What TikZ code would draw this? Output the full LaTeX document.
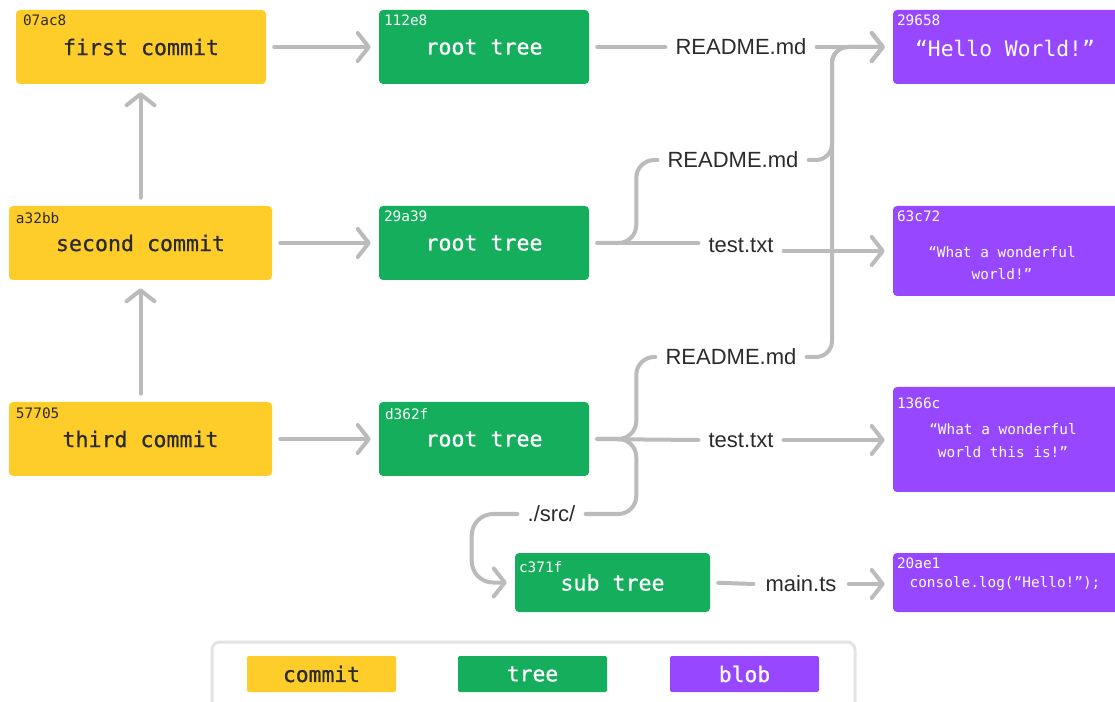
\documentclass[tikz,border=0pt]{standalone}
\usepackage{fontspec}
\setmainfont{Liberation Sans}
\newfontfamily\monofont{DejaVu Sans Mono}
\newfontfamily\monomedium[FakeBold=0.7]{DejaVu Sans Mono}
\usetikzlibrary{arrows.meta}
\newlength{\pxu}\setlength{\pxu}{0.75pt}
\definecolor{commitc}{HTML}{FFCD29}
\definecolor{treec}{HTML}{14AE5C}
\definecolor{blobc}{HTML}{9747FF}
\definecolor{wire}{HTML}{BBBBBB}
\definecolor{ink}{HTML}{2B2B2B}
\definecolor{frame}{HTML}{E3E3E3}
\tikzset{
  objbox/.style={rounded corners=4\pxu, inner sep=0pt, minimum height=74\pxu,
    font=\monomedium\fontsize{16.2}{19}\selectfont},
  commitbox/.style={objbox, fill=commitc, text=ink},
  treebox/.style={objbox, fill=treec, text=white},
  blobbox/.style={objbox, fill=blobc, text=white, minimum width=240\pxu},
  hash/.style={anchor=west, inner sep=0pt, font=\monofont\fontsize{10.8}{13}\selectfont},
  blobtext/.style={inner sep=0pt, text=white, align=center,
    font=\monofont\fontsize{10.8}{16.5}\selectfont},
  file/.style={inner xsep=10\pxu, inner ysep=0pt, text=ink,
    font=\fontsize{16.5}{20}\selectfont},
  conn/.style={draw=wire, line width=3pt, line cap=round, line join=round},
  arr/.style={conn, -{Straight Barb[length=8.25pt, width=21pt, round]}},
  from box/.style={shorten <=6pt},
  to box/.style={shorten >=6pt},
  legendkey/.style={rounded corners=2\pxu, minimum width=149\pxu, minimum height=36\pxu,
    inner sep=0pt, font=\monomedium\fontsize{16}{19}\selectfont},
}
\begin{document}
\begin{tikzpicture}[x=\pxu, y=-\pxu]
\useasboundingbox (0,0) rectangle (1115,702);
\clip (0,0) rectangle (1115,702);
\fill[white] (0,0) rectangle (1115,702);

% commits
\node[commitbox, minimum width=250\pxu] (c1) at (141,47) {first commit};
\node[commitbox, minimum width=263\pxu] (c2) at (140.5,243) {second commit};
\node[commitbox, minimum width=263\pxu] (c3) at (140.5,439) {third commit};
\node[hash, text=ink] (c1h) at ([shift={(7,11)}]c1.north west) {07ac8};
\node[hash, text=ink] (c2h) at ([shift={(7,12)}]c2.north west) {a32bb};
\node[hash, text=ink] (c3h) at ([shift={(7,12)}]c3.north west) {57705};

% trees
\node[treebox, minimum width=210\pxu] (t1) at (484,47) {root tree};
\node[treebox, minimum width=210\pxu] (t2) at (484,243) {root tree};
\node[treebox, minimum width=210\pxu] (t3) at (484,439) {root tree};
\node[treebox, minimum width=195\pxu, minimum height=59\pxu] (st) at (612.5,582.5) {sub tree};
\node[hash, text=white] (t1h) at ([shift={(5,11)}]t1.north west) {112e8};
\node[hash, text=white] (t2h) at ([shift={(5,11)}]t2.north west) {29a39};
\node[hash, text=white] (t3h) at ([shift={(6,12)}]t3.north west) {d362f};
\node[hash, text=white] (sth) at ([shift={(4,14)}]st.north west) {c371f};

% blobs
\node[blobbox] (b1) at (1013,47) {};
\node[blobbox, minimum height=90\pxu] (b2) at (1013,251) {};
\node[blobbox, minimum height=105\pxu] (b3) at (1013,439.5) {};
\node[blobbox, minimum height=59\pxu] (b4) at (1013,582.5) {};
\node[hash, text=white] (b1h) at ([shift={(4,11)}]b1.north west) {29658};
\node[hash, text=white] (b2h) at ([shift={(4,11)}]b2.north west) {63c72};
\node[hash, text=white] (b3h) at ([shift={(4,17)}]b3.north west) {1366c};
\node[hash, text=white] (b4h) at ([shift={(4,11)}]b4.north west) {20ae1};
\node[inner sep=0pt, text=white, font=\monofont\fontsize{16}{19}\selectfont] (b1t) at (1005,48) {“Hello World!”};
\node[blobtext] (b2t) at (1002,263) {“What a wonderful\\world!”};
\node[blobtext, font=\monofont\fontsize{10.8}{17.2}\selectfont] (b3t) at (1003,440.5) {“What a wonderful\\world this is!”};
\node[blobtext] (b4t) at (1005,584) {console.log(“Hello!”);};

% entry names
\node[file] (r1) at (741,47) {README.md};
\node[file] (r2) at (733,160) {README.md};
\node[file] (r3) at (731,357) {README.md};
\node[file] (s2) at (741,245) {test.txt};
\node[file] (s3) at (741,440) {test.txt};
\node[file] (src) at (551.5,514) {./src/};
\node[file, inner xsep=12\pxu] (mt) at (801,584) {main.ts};
\coordinate (bus) at (832,300);

% commit history and commit -> tree
\draw[arr, from box, to box] (c2.north) -- (c2.north |- c1.south);
\draw[arr, from box, to box] (c3.north) -- (c3.north |- c2.south);
\draw[arr, from box, to box] (c1.east) -- (t1.west);
\draw[arr, from box, to box] (c2.east) -- (t2.west);
\draw[arr, from box, to box] (c3.east) -- (t3.west);

% first tree
\draw[conn, from box] (t1.east) -- (r1.west);
\draw[arr, to box] (r1.east) -- (b1.west);

% second tree
\draw[conn, from box] (t2.east) -- (s2.west |- t2.east);
\draw[conn, rounded corners=13.5pt] ([xshift=6pt]t2.east) -- ([xshift=35.25pt]t2.east) |- (r2.west);
\draw[arr, to box, rounded corners=12pt] (r2.east) -| (bus |- b1.west) -- (b1.west);
\draw[arr, to box] (s2.east |- b2.west) -- (b2.west);

% third tree
\draw[conn, from box] (t3.east) -- (s3.west);
\draw[conn, rounded corners=13.5pt] ([xshift=6pt]t3.east) -- ([xshift=35.25pt]t3.east) |- (r3.west);
\draw[conn, rounded corners=13.5pt] ([xshift=6pt]t3.east) -- ([xshift=35.25pt]t3.east) |- (src.east);
\draw[arr, to box, rounded corners=16pt] (src.west) -| ([xshift=-32.25pt]st.west) -- (st.west);
\draw[arr, to box, rounded corners=12pt] (r3.east) -| (bus |- b1.west) -- (b1.west);
\draw[arr, to box] (s3.east) -- (s3.east -| b3.west);

% sub tree
\draw[conn, from box] (st.east) -- (mt.west);
\draw[arr, to box] (mt.east) -- (mt.east -| b4.west);

% legend
\node[draw=frame, line width=2.25pt, rounded corners=6pt, minimum width=643\pxu,
  minimum height=80\pxu, inner sep=0pt] (legend) at (533.5,682) {};
\node[legendkey, fill=commitc, text=ink] (lc) at (321.5,674) {commit};
\node[legendkey, fill=treec, text=white] (lt) at (532.5,674) {tree};
\node[legendkey, fill=blobc, text=white] (lb) at (744.5,674) {blob};
\end{tikzpicture}
\end{document}
